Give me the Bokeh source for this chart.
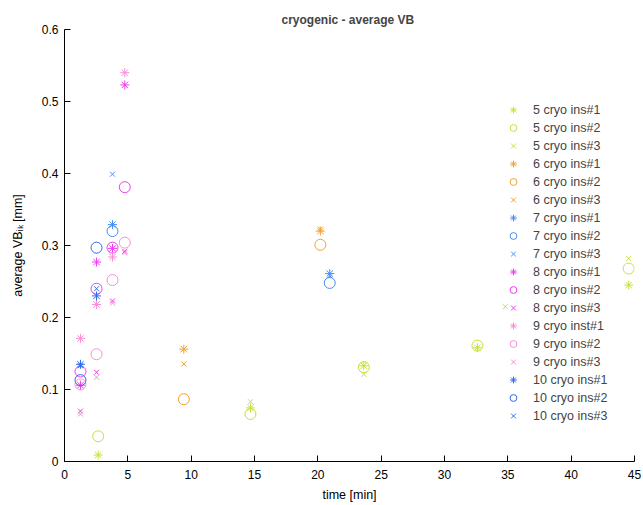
from bokeh.plotting import figure
from bokeh.models import Range1d, FixedTicker, CustomJSTickFormatter, Legend, LegendItem
from bokeh.embed import file_html
from bokeh.resources import INLINE

# ---------------- data ----------------
s5_x = [2.66, 14.68, 23.63, 32.6, 44.54]
s5_ins1 = [0.009, 0.0745, 0.133, 0.158, 0.245]
s5_ins2 = [0.035, 0.066, 0.131, 0.161, 0.268]
s5_x3 = [14.68, 23.63, 34.8, 44.54]
s5_ins3 = [0.083, 0.121, 0.215, 0.282]

s6_x = [9.42, 20.2]
s6_ins1 = [0.156, 0.320]
s6_ins2 = [0.0865, 0.301]
s6_ins3 = [0.1356, 0.323]

s7_x = [3.79, 20.94]
s7_ins1 = [0.329, 0.261]
s7_ins2 = [0.320, 0.248]
s7_ins3 = [0.399, 0.258]

s8_x = [1.26, 2.53, 3.79, 4.76]
s8_ins1 = [0.106, 0.277, 0.296, 0.523]
s8_ins2 = [0.125, 0.240, 0.297, 0.381]
s8_ins3 = [0.070, 0.124, 0.223, 0.292]

s9_x = [1.26, 2.53, 3.79, 4.76]
s9_ins1 = [0.171, 0.218, 0.284, 0.540]
s9_ins2 = [0.107, 0.149, 0.252, 0.304]
s9_ins3 = [0.066, 0.117, 0.220, 0.290]

s10_x = [1.26, 2.53]
s10_ins1 = [0.135, 0.230]
s10_ins2 = [0.113, 0.297]
s10_ins3 = [0.133, 0.240]

x_ticks = [0, 5, 10, 15, 20, 25, 30, 35, 40, 45]
y_ticks = [0, 0.1, 0.2, 0.3, 0.4, 0.5, 0.6]

colors = {5: "#c6e03c", 6: "#f0a232", 7: "#4a8ef2", 8: "#f03cf0", 9: "#f590d6", 10: "#2c6ce8"}

series = [
    (5, "5 cryo ins#1", s5_x, s5_ins1, "asterisk"),
    (5, "5 cryo ins#2", s5_x, s5_ins2, "circle"),
    (5, "5 cryo ins#3", s5_x3, s5_ins3, "x"),
    (6, "6 cryo ins#1", s6_x, s6_ins1, "asterisk"),
    (6, "6 cryo ins#2", s6_x, s6_ins2, "circle"),
    (6, "6 cryo ins#3", s6_x, s6_ins3, "x"),
    (7, "7 cryo ins#1", s7_x, s7_ins1, "asterisk"),
    (7, "7 cryo ins#2", s7_x, s7_ins2, "circle"),
    (7, "7 cryo ins#3", s7_x, s7_ins3, "x"),
    (8, "8 cryo ins#1", s8_x, s8_ins1, "asterisk"),
    (8, "8 cryo ins#2", s8_x, s8_ins2, "circle"),
    (8, "8 cryo ins#3", s8_x, s8_ins3, "x"),
    (9, "9 cryo inst#1", s9_x, s9_ins1, "asterisk"),
    (9, "9 cryo ins#2", s9_x, s9_ins2, "circle"),
    (9, "9 cryo ins#3", s9_x, s9_ins3, "x"),
    (10, "10 cryo ins#1", s10_x, s10_ins1, "asterisk"),
    (10, "10 cryo ins#2", s10_x, s10_ins2, "circle"),
    (10, "10 cryo ins#3", s10_x, s10_ins3, "x"),
]

sizes = {"asterisk": 9, "circle": 11, "x": 7}

FONT = "Liberation Sans"

p = figure(width=643, height=505, output_backend="svg", toolbar_location=None,
           x_range=Range1d(0, 45), y_range=Range1d(0, 0.6),
           min_border_left=64, min_border_right=9, min_border_top=29, min_border_bottom=44,
           title="cryogenic  - average VB")
p.title.align = "center"
p.title.text_font = FONT
p.title.text_font_size = "12px"
p.title.text_font_style = "bold"
p.title.standoff = 6
p.outline_line_color = None
p.grid.visible = False
p.background_fill_color = "white"

items = []
for key, label, xs, ys, marker in series:
    r = p.scatter(xs, ys, marker=marker, size=sizes[marker], line_color=colors[key],
                  fill_color=None, line_width=1)
    items.append(LegendItem(label=label, renderers=[r]))

legend = Legend(items=items, location=(439, 37), border_line_color=None,
                background_fill_alpha=0, padding=0, margin=0, spacing=1,
                glyph_width=20, glyph_height=17, label_height=17, label_standoff=10,
                label_text_font=FONT, label_text_font_size="12.5px")
p.add_layout(legend, "center")

for ax in (p.xaxis, p.yaxis):
    ax.major_tick_in = 6
    ax.major_tick_out = 0
    ax.minor_tick_in = 0
    ax.minor_tick_out = 0
    ax.axis_line_color = "black"
    ax.major_tick_line_color = "black"
    ax.major_label_text_font = FONT
    ax.major_label_text_font_size = "12px"
    ax.major_label_text_color = "black"
    ax.axis_label_text_font = FONT
    ax.axis_label_text_font_size = "12.5px"
    ax.axis_label_text_font_style = "normal"
    ax.axis_label_text_color = "black"

p.xaxis.ticker = FixedTicker(ticks=x_ticks)
p.yaxis.ticker = FixedTicker(ticks=y_ticks)
p.yaxis.formatter = CustomJSTickFormatter(code="return tick.toFixed(1).replace(/\\.0$/, '');")
p.xaxis.axis_label = "time [min]"
p.yaxis.axis_label = "average VB\u1d62\u2096 [mm]"
p.xaxis.major_label_standoff = 8
p.xaxis.axis_label_standoff = 6
p.yaxis.major_label_standoff = 6
p.yaxis.axis_label_standoff = 14

open("out.html", "w").write(file_html(p, INLINE))
